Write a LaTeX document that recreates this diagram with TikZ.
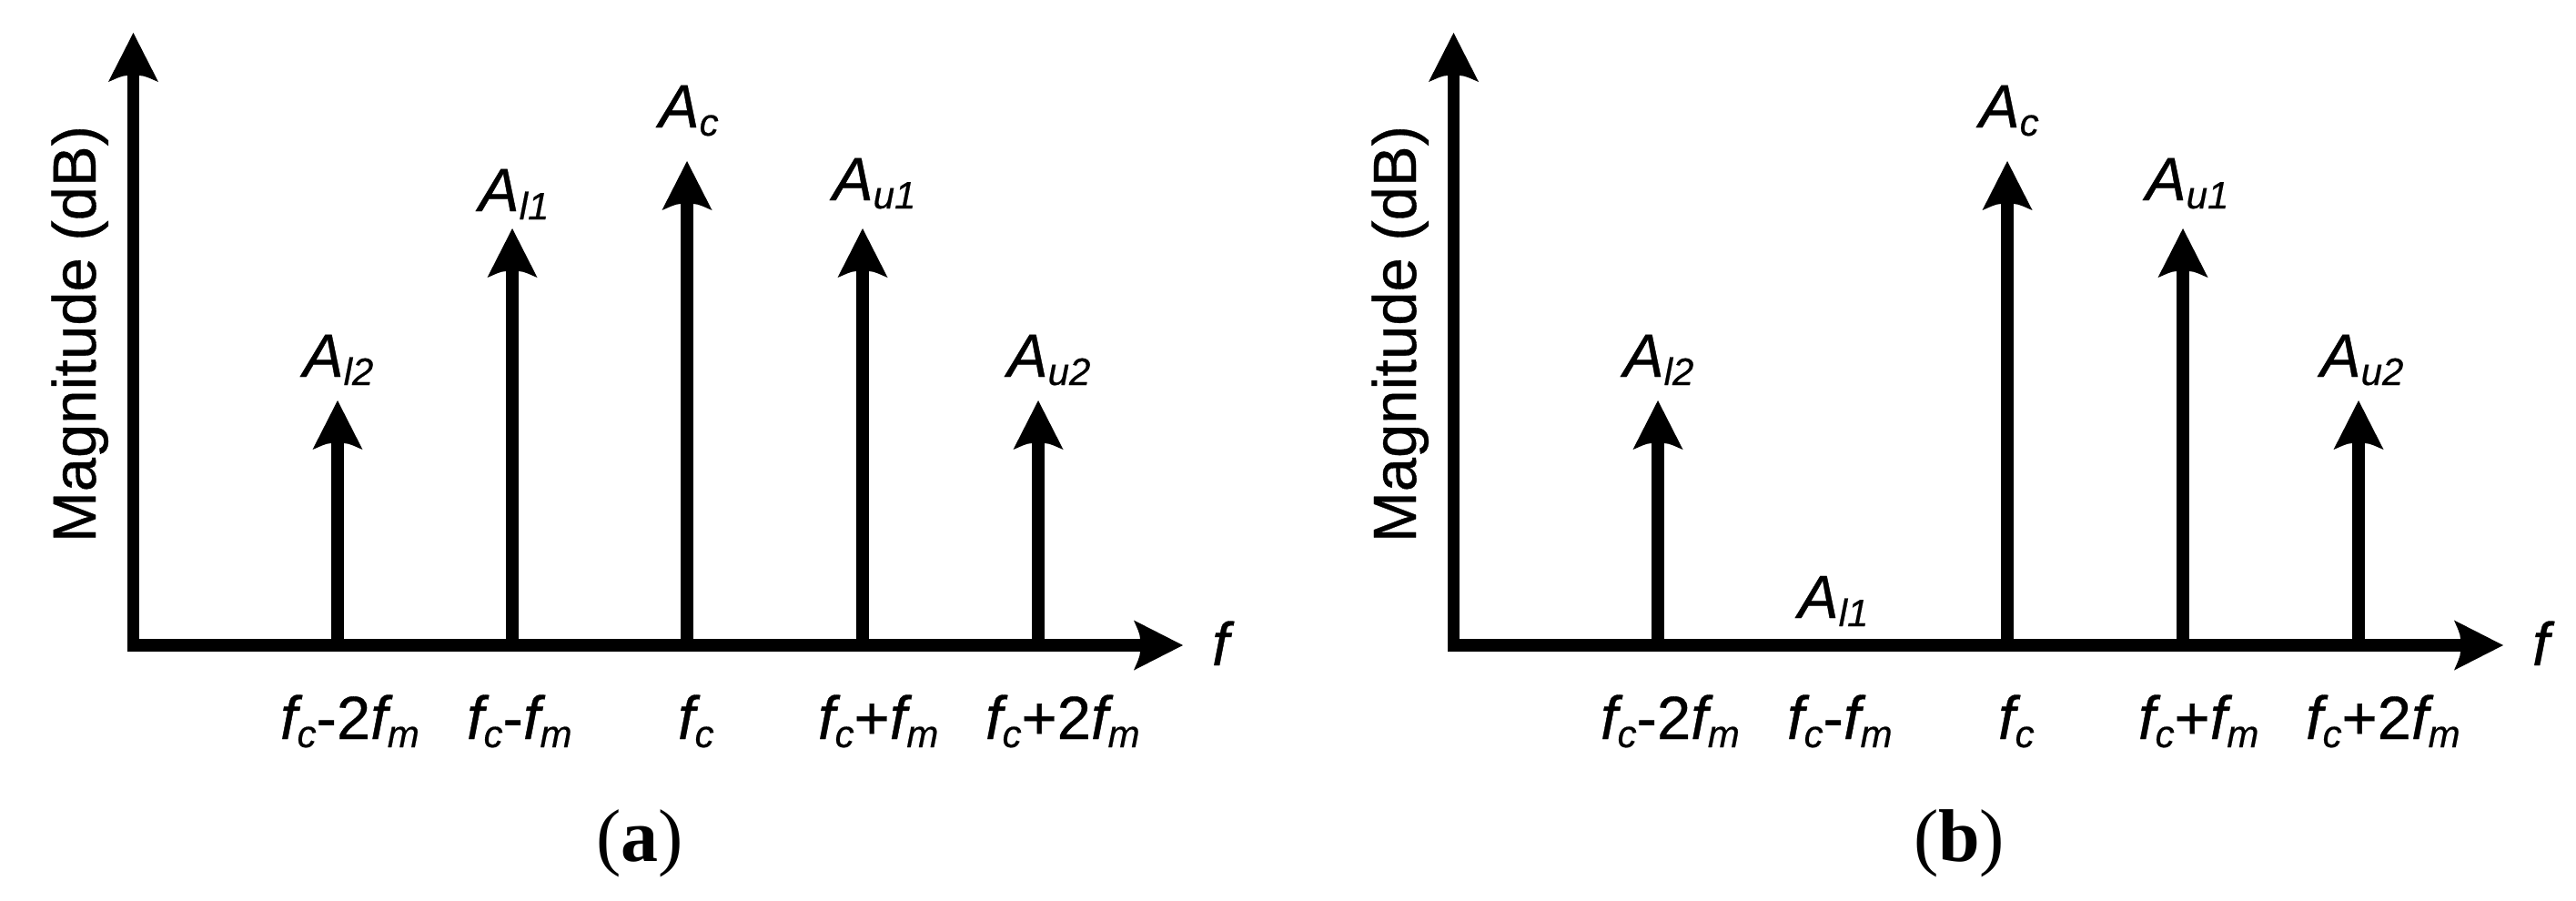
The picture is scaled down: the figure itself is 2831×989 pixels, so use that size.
\documentclass[tikz,border=0pt]{standalone}
\usepackage{fontspec}
\setmainfont[FakeBold=0.5]{Liberation Sans}
\newfontfamily\capfont{Liberation Serif}
\usetikzlibrary{arrows.meta}
\pgfdeclarearrow{
  name=BigHead,
  setup code={
    \pgfarrowssettipend{0pt}
    \pgfarrowssetbackend{-54pt}
    \pgfarrowssetlineend{-44pt}
    \pgfarrowssetvisualbackend{-44pt}
  },
  drawing code={
    \pgfpathmoveto{\pgfpoint{0pt}{0pt}}
    \pgfpathlineto{\pgfpoint{-54pt}{27.5pt}}
    \pgfpathcurveto{\pgfpoint{-51pt}{20pt}}{\pgfpoint{-47pt}{13pt}}{\pgfpoint{-47pt}{7pt}}
    \pgfpathlineto{\pgfpoint{-47pt}{-7pt}}
    \pgfpathcurveto{\pgfpoint{-47pt}{-13pt}}{\pgfpoint{-51pt}{-20pt}}{\pgfpoint{-54pt}{-27.5pt}}
    \pgfpathclose
    \pgfusepathqfill
  }
}
\newcommand{\sbs}[1]{\raisebox{-9pt}{\fontsize{42}{42}\selectfont\itshape #1}}
\newcommand{\ff}{{\itshape f}}
\newcommand{\amp}{{\itshape A}}
\tikzset{
  axisline/.style={line width=14pt,-{BigHead},line cap=butt},
  stemline/.style={line width=14pt,-{BigHead},line cap=butt},
  lab/.style={anchor=base west,inner sep=0pt,outer sep=0pt,font=\fontsize{67}{67}\selectfont},
  captionlab/.style={anchor=base west,inner sep=0pt,outer sep=0pt,font=\capfont\fontsize{82}{82}\selectfont},
}
\newcommand{\panel}[4]{%
\begin{scope}[xshift=#1pt,name prefix=#2-]
  \coordinate (cx) at (146.5,716);
  \coordinate (cy) at (146.5,36);
  \coordinate (ox) at (140,709);
  \coordinate (xt) at (1300,709);
  \draw[axisline,line width=13pt] (cx) -- (cy);
  \draw[axisline] (ox) -- (xt);
  \node[lab,rotate=90] (ylab) at (105,596) {Magnitude (dB)};
  \node[lab] (flab) at (1332,731) {\ff};
  \coordinate (b1) at (371,709); \coordinate (t1) at (371,440);
  \coordinate (b3) at (755,709); \coordinate (t3) at (755,177);
  \coordinate (b4) at (948,709); \coordinate (t4) at (948,251);
  \coordinate (b5) at (1141,709); \coordinate (t5) at (1141,440);
  \draw[stemline] (b1) -- (t1);
  \draw[stemline] (b3) -- (t3);
  \draw[stemline] (b4) -- (t4);
  \draw[stemline] (b5) -- (t5);
  \node[lab] (al2) at (333,414) {\amp\sbs{l2}};
  \node[lab] (ac) at (724,140) {\amp\sbs{c}};
  \node[lab] (au1) at (915+#4,220) {\amp\sbs{u1}};
  \node[lab] (au2) at (1107+#4,414) {\amp\sbs{u2}};
  \node[lab] (f1) at (308,812) {\ff\sbs{c}-2\ff\sbs{m}};
  \node[lab] (f2) at (513,812) {\ff\sbs{c}-\ff\sbs{m}};
  \node[lab] (f3) at (745,812) {\ff\sbs{c}};
  \node[lab] (f4) at (899,812) {\ff\sbs{c}+\ff\sbs{m}};
  \node[lab] (f5) at (1083,812) {\ff\sbs{c}+2\ff\sbs{m}};
  \node[captionlab] (pc) at (#3,946) {(\textbf{#2})};
\end{scope}}
\begin{document}
\begin{tikzpicture}[x=1pt,y=-1pt]
\useasboundingbox (0,0) rectangle (2831,989);
\panel{0}{a}{655}{0}
\panel{1451}{b}{652}{-8}
\begin{scope}[name prefix=a-]
  \coordinate (b2) at (563,709); \coordinate (t2) at (563,251);
  \draw[stemline] (b2) -- (t2);
  \node[lab] (al1) at (526,232) {\amp\sbs{l1}};
\end{scope}
\begin{scope}[xshift=1451pt,name prefix=b-]
  \node[lab] (al1) at (525,679) {\amp\sbs{l1}};
\end{scope}
\end{tikzpicture}
\end{document}
